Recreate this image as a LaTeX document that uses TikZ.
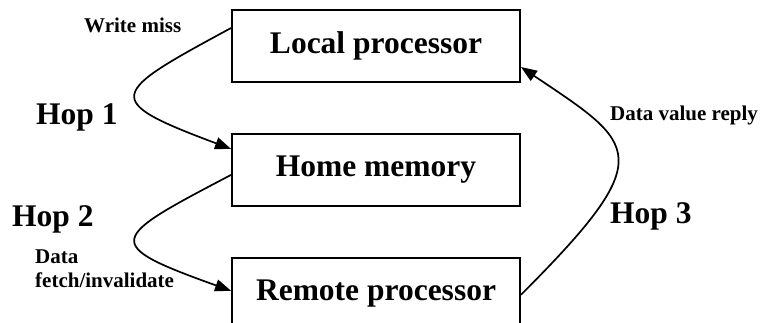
\documentclass[tikz,border=0pt]{standalone}
\usepackage{fontspec}
\setmainfont{Liberation Serif}
\usetikzlibrary{arrows.meta,positioning}

\begin{document}
\begin{tikzpicture}[>={Triangle[length=16pt,width=12pt]},x=1pt,y=1pt,
  unit/.style={draw,line width=1.9pt,minimum width=288pt,minimum height=72pt,inner sep=0pt,
    font=\fontsize{31.5}{36}\selectfont\bfseries},
  big/.style={font=\fontsize{31.5}{36}\selectfont\bfseries,inner sep=0pt,anchor=base west},
  small/.style={font=\fontsize{21}{24}\selectfont\bfseries,inner sep=0pt,anchor=base west,align=left},
  hop/.style={->,line width=1.7pt}]
\useasboundingbox (0,0) rectangle (763,322);
% the three units
\node[unit] (local) at (376,276) {Local processor};
\node[unit,below=50pt of local] (home) {Home memory};
\node[unit,below=50pt of home] (remote) {Remote processor};
% hops between them
\draw[hop] ([yshift=18pt]local.west) .. controls +(-122,-66) and +(-131,49) .. ([yshift=21pt]home.west);
\draw[hop] ([yshift=-5pt]home.west) .. controls +(-122,-64) and +(-131,47) .. ([yshift=3pt]remote.west);
\draw[hop] ([yshift=-1pt]remote.east) .. controls +(140,140) and +(116,-78) .. ([yshift=-21pt]local.east);
% labels
\node[small] (wmiss) at (84,289) {Write miss};
\node[big] (hop1) at (36,198) {Hop 1};
\node[big] (hop2) at (12,96) {Hop 2};
\node[small] (fetch) at (35,35) {Data\\fetch/invalidate};
\node[big] (hop3) at (610,99) {Hop 3};
\node[small] (reply) at (610,202) {Data value reply};
\end{tikzpicture}
\end{document}
